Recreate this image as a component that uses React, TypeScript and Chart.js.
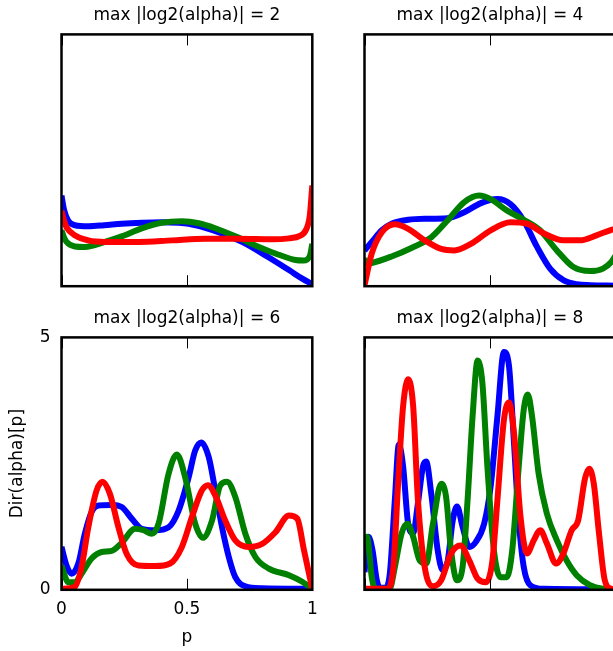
import React, { useEffect, useRef } from "react";
import { Chart, registerables } from "chart.js";

Chart.register(...registerables);

type Pt = [number, number];

// ---------- data ----------
const TITLES = [
  "max |log2(alpha)| = 2",
  "max |log2(alpha)| = 4",
  "max |log2(alpha)| = 6",
  "max |log2(alpha)| = 8",
];
const X_TICKS = [0, 0.5, 1];
const Y_TICKS = [0, 5];
const X_LABEL = "p";
const Y_LABEL = "Dir(alpha)[p]";
const SERIES_COLORS = ["#0000ff", "#008000", "#ff0000"];

// max |log2(alpha)| = 2
const A2_BLUE: Pt[] = [
  [0, 1.8], [0.01, 1.52], [0.027, 1.3], [0.053, 1.21], [0.107, 1.19], [0.17, 1.21],
  [0.24, 1.24], [0.32, 1.26], [0.4, 1.27], [0.467, 1.26], [0.507, 1.24], [0.573, 1.16],
  [0.64, 1.05], [0.72, 0.88], [0.827, 0.57], [0.907, 0.32], [0.96, 0.15], [1, 0.04],
];
const A2_GREEN: Pt[] = [
  [0, 1.11], [0.01, 0.97], [0.02, 0.88], [0.053, 0.79], [0.093, 0.78], [0.173, 0.88],
  [0.24, 0.99], [0.32, 1.15], [0.4, 1.26], [0.48, 1.29], [0.547, 1.25], [0.613, 1.15],
  [0.693, 0.99], [0.773, 0.81], [0.853, 0.65], [0.933, 0.52], [0.965, 0.51], [0.99, 0.6], [1, 0.84],
];
const A2_RED: Pt[] = [
  [0, 1.5], [0.01, 1.3], [0.02, 1.17], [0.053, 1.01], [0.107, 0.91], [0.173, 0.88],
  [0.307, 0.88], [0.44, 0.91], [0.573, 0.94], [0.707, 0.94], [0.84, 0.93], [0.907, 0.95],
  [0.95, 1.0], [0.975, 1.12], [0.99, 1.4], [1, 2.0],
];

// max |log2(alpha)| = 4
const A4_BLUE: Pt[] = [
  [0, 0.71], [0.029, 0.88], [0.069, 1.11], [0.108, 1.24], [0.174, 1.32], [0.24, 1.34],
  [0.33, 1.35], [0.398, 1.47], [0.464, 1.65], [0.53, 1.73], [0.582, 1.63], [0.635, 1.3],
  [0.688, 0.78], [0.74, 0.35], [0.793, 0.12], [0.846, 0.04], [0.9, 0.02], [1, 0.01],
];
const A4_GREEN: Pt[] = [
  [0, 0.55], [0.01, 0.45], [0.029, 0.46], [0.108, 0.59], [0.187, 0.76], [0.266, 0.97],
  [0.33, 1.3], [0.398, 1.67], [0.457, 1.8], [0.503, 1.73], [0.569, 1.5], [0.635, 1.32],
  [0.7, 1.11], [0.767, 0.71], [0.833, 0.38], [0.9, 0.3], [0.951, 0.35], [0.984, 0.48], [1, 0.6],
];
const A4_RED: Pt[] = [
  [0, 0.02], [0.029, 0.65], [0.069, 1.07], [0.121, 1.23], [0.174, 1.14], [0.24, 0.91],
  [0.306, 0.74], [0.358, 0.71], [0.424, 0.84], [0.503, 1.11], [0.582, 1.27], [0.648, 1.24],
  [0.714, 1.05], [0.793, 0.91], [0.859, 0.91], [0.925, 1.01], [0.984, 1.12], [1, 1.14],
];

// max |log2(alpha)| = 6
const A6_BLUE: Pt[] = [
  [0, 0.85], [0.02, 0.48], [0.04, 0.32], [0.067, 0.52], [0.093, 1.11], [0.12, 1.54],
  [0.147, 1.67], [0.2, 1.68], [0.24, 1.64], [0.28, 1.41], [0.32, 1.21], [0.373, 1.18],
  [0.427, 1.24], [0.467, 1.57], [0.507, 2.23], [0.533, 2.76], [0.557, 2.92], [0.587, 2.63],
  [0.613, 1.97], [0.64, 1.24], [0.667, 0.65], [0.693, 0.25], [0.733, 0.07], [0.8, 0.03], [1, 0.02],
];
const A6_GREEN: Pt[] = [
  [0, 0.48], [0.027, 0.15], [0.053, 0.15], [0.08, 0.32], [0.12, 0.62], [0.16, 0.75],
  [0.2, 0.77], [0.24, 0.93], [0.293, 1.21], [0.327, 1.18], [0.36, 1.11], [0.387, 1.31],
  [0.427, 2.3], [0.46, 2.68], [0.493, 2.23], [0.533, 1.31], [0.564, 1.03], [0.6, 1.37],
  [0.633, 2.07], [0.66, 2.14], [0.693, 1.84], [0.733, 1.11], [0.773, 0.65], [0.827, 0.42],
  [0.907, 0.29], [0.96, 0.16], [1, 0.02],
];
const A6_RED: Pt[] = [
  [0, 0.02], [0.053, 0.06], [0.08, 0.45], [0.107, 1.24], [0.14, 1.97], [0.164, 2.14],
  [0.193, 1.9], [0.227, 1.24], [0.26, 0.71], [0.307, 0.48], [0.373, 0.47], [0.433, 0.52],
  [0.48, 0.85], [0.52, 1.44], [0.56, 1.97], [0.584, 2.07], [0.613, 1.87], [0.653, 1.37],
  [0.693, 0.98], [0.747, 0.85], [0.8, 0.91], [0.853, 1.14], [0.907, 1.47], [0.94, 1.41],
  [0.967, 0.78], [1, 0.02],
];

// max |log2(alpha)| = 8
const A8_BLUE: Pt[] = [
  [0, 0.35], [0.016, 1.05], [0.032, 0.78], [0.049, 0.19], [0.062, 0.04], [0.082, 0.04],
  [0.101, 0.32], [0.121, 1.78], [0.137, 2.88], [0.154, 2.44], [0.174, 1.31], [0.194, 1.12],
  [0.213, 1.71], [0.233, 2.44], [0.246, 2.54], [0.266, 1.91], [0.292, 0.78], [0.312, 0.39],
  [0.332, 0.58], [0.352, 1.38], [0.369, 1.65], [0.391, 1.25], [0.418, 0.85], [0.444, 0.95],
  [0.477, 1.31], [0.503, 2.05], [0.53, 3.44], [0.556, 4.71], [0.576, 4.44], [0.596, 2.91],
  [0.615, 1.38], [0.635, 0.45], [0.661, 0.09], [0.714, 0.02], [1, 0.01],
];
const A8_GREEN: Pt[] = [
  [0, 1.0], [0.01, 1.05], [0.029, 0.25], [0.042, 0.02], [0.1, 0.02], [0.121, 0.45],
  [0.148, 1.12], [0.171, 1.31], [0.194, 1.05], [0.22, 0.58], [0.246, 0.52], [0.273, 1.31],
  [0.306, 2.1], [0.325, 1.85], [0.345, 0.78], [0.369, 0.19], [0.391, 0.45], [0.411, 1.78],
  [0.431, 3.44], [0.451, 4.54], [0.47, 4.1], [0.49, 2.44], [0.516, 0.78], [0.543, 0.25],
  [0.567, 0.25], [0.589, 0.78], [0.615, 2.44], [0.635, 3.57], [0.651, 3.87], [0.668, 3.44],
  [0.694, 2.31], [0.727, 1.51], [0.767, 0.98], [0.806, 0.58], [0.846, 0.29], [0.899, 0.09],
  [0.951, 0.02], [1, 0.01],
];
const A8_RED: Pt[] = [
  [0, 0.02], [0.09, 0.02], [0.115, 0.45], [0.134, 2.11], [0.154, 3.64], [0.174, 4.17],
  [0.194, 3.64], [0.213, 1.78], [0.24, 0.45], [0.273, 0.07], [0.306, 0.19], [0.345, 0.72],
  [0.382, 0.88], [0.418, 0.58], [0.451, 0.22], [0.484, 0.15], [0.51, 0.58], [0.53, 1.78],
  [0.556, 3.37], [0.576, 3.71], [0.596, 3.11], [0.622, 1.45], [0.648, 0.72], [0.675, 0.98],
  [0.701, 1.18], [0.727, 0.92], [0.764, 0.52], [0.793, 0.72], [0.826, 1.18], [0.852, 1.38],
  [0.879, 2.2], [0.896, 2.4], [0.914, 2.11], [0.935, 1.12], [0.958, 0.19], [0.984, 0.02], [1, 0.01],
];

const PANEL_SERIES: Pt[][][] = [
  [A2_BLUE, A2_GREEN, A2_RED],
  [A4_BLUE, A4_GREEN, A4_RED],
  [A6_BLUE, A6_GREEN, A6_RED],
  [A8_BLUE, A8_GREEN, A8_RED],
];

// ---------- layout ----------
const FONT_FAMILY = "'DejaVu Sans', 'Bitstream Vera Sans', sans-serif";
const FONT_SIZE = 17;

type PanelLayout = {
  left: number;
  top: number;
  width: number;
  height: number;
  pad: { left: number; right: number; top: number; bottom: number };
  axes: boolean;
};

const LAYOUTS: PanelLayout[] = [
  { left: 37, top: 0, width: 300, height: 300, pad: { left: 24.5, right: 24.7, top: 0, bottom: 13.8 }, axes: false },
  { left: 340, top: 0, width: 300, height: 300, pad: { left: 24.5, right: 24.7, top: 0, bottom: 13.8 }, axes: false },
  { left: 0, top: 303, width: 374, height: 348, pad: { left: 0, right: 61.7, top: 0, bottom: 0 }, axes: true },
  { left: 340, top: 303, width: 300, height: 348, pad: { left: 24.5, right: 24.7, top: 0, bottom: 61.2 }, axes: false },
];

const boxPlugin = {
  id: "mplBox",
  afterDatasetsDraw(chart: any) {
    const { ctx, chartArea: a, scales } = chart;
    ctx.save();
    ctx.strokeStyle = "#000";
    ctx.lineWidth = 1;
    const tl = 11;
    X_TICKS.forEach((v) => {
      const x = Math.round(scales.x.getPixelForValue(v)) + 0.5;
      ctx.beginPath();
      ctx.moveTo(x, a.top);
      ctx.lineTo(x, a.top + tl);
      ctx.moveTo(x, a.bottom);
      ctx.lineTo(x, a.bottom - tl);
      ctx.stroke();
    });
    Y_TICKS.forEach((v) => {
      const y = Math.round(scales.y.getPixelForValue(v)) + 0.5;
      ctx.beginPath();
      ctx.moveTo(a.left, y);
      ctx.lineTo(a.left + tl, y);
      ctx.moveTo(a.right, y);
      ctx.lineTo(a.right - tl, y);
      ctx.stroke();
    });
    ctx.lineWidth = 2.5;
    ctx.strokeRect(a.left, a.top, a.right - a.left, a.bottom - a.top);
    ctx.restore();
  },
};

function Panel({ index }: { index: number }) {
  const ref = useRef<HTMLCanvasElement | null>(null);
  const L = LAYOUTS[index];
  useEffect(() => {
    if (!ref.current) return;
    const font = { family: FONT_FAMILY, size: FONT_SIZE, weight: "normal" as const };
    const series = PANEL_SERIES[index];
    const chart = new Chart(ref.current, {
      type: "line",
      data: {
        datasets: series.map((pts, i) => ({
          data: pts.map(([x, y]) => ({ x, y })),
          borderColor: SERIES_COLORS[i],
          backgroundColor: SERIES_COLORS[i],
          borderWidth: 6,
          pointRadius: 0,
          pointHoverRadius: 0,
          fill: false,
          cubicInterpolationMode: "monotone",
          borderJoinStyle: "round",
          borderCapStyle: "butt",
          clip: 0,
          order: 2 - i,
        })),
      },
      options: {
        responsive: false,
        animation: false,
        devicePixelRatio: 1,
        events: [],
        layout: { padding: L.pad },
        plugins: {
          legend: { display: false },
          tooltip: { enabled: false },
          title: {
            display: true,
            text: TITLES[index],
            font,
            color: "#000",
            fullSize: false,
            padding: { top: 5, bottom: 9 },
          },
        },
        scales: {
          x: {
            type: "linear",
            min: 0,
            max: 1,
            display: L.axes,
            grid: { display: false, drawTicks: false },
            border: { display: false },
            afterBuildTicks: (s: any) => {
              s.ticks = X_TICKS.map((value) => ({ value }));
            },
            ticks: {
              font,
              color: "#000",
              padding: 9.5,
              maxRotation: 0,
              autoSkip: false,
              callback: (v: any) => String(v),
            },
            title: {
              display: true,
              text: X_LABEL,
              font,
              color: "#000",
              padding: { top: 0, bottom: 3 },
            },
            afterFit: (s: any) => {
              s.height = L.axes ? 61.2 : 0;
            },
          },
          y: {
            type: "linear",
            min: 0,
            max: 5,
            display: L.axes,
            grid: { display: false, drawTicks: false },
            border: { display: false },
            afterBuildTicks: (s: any) => {
              s.ticks = Y_TICKS.map((value) => ({ value }));
            },
            ticks: {
              font,
              color: "#000",
              padding: 11,
              callback: (v: any) => String(v),
            },
            title: {
              display: true,
              text: Y_LABEL,
              font,
              color: "#000",
              padding: { top: 7.3, bottom: 0 },
            },
            afterFit: (s: any) => {
              s.width = L.axes ? 61.5 : 0;
            },
          },
        },
      } as any,
      plugins: [boxPlugin],
    });
    return () => chart.destroy();
  }, [index]);
  return (
    <canvas
      ref={ref}
      width={L.width}
      height={L.height}
      style={{ position: "absolute", left: L.left, top: L.top, width: L.width, height: L.height }}
    />
  );
}

export default function App() {
  return (
    <div
      style={{
        position: "absolute",
        left: 0,
        top: 0,
        width: 613,
        height: 651,
        overflow: "hidden",
        background: "#fff",
      }}
    >
      {LAYOUTS.map((_, i) => (
        <Panel key={i} index={i} />
      ))}
    </div>
  );
}
